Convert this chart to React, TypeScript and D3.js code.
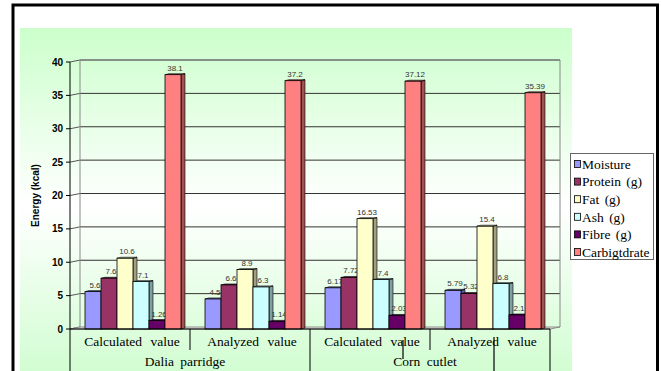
import React from "react";
import * as d3 from "d3";

// Samples and measurement type (two-level category axis)
const groups = ["Dalia parridge", "Corn cutlet"];
const measures = ["Calculated value", "Analyzed value"];
const categories = ["Dalia|Calculated", "Dalia|Analyzed", "Corn|Calculated", "Corn|Analyzed"];

const seriesNames = ["Moisture", "Protein  (g)", "Fat  (g)", "Ash  (g)", "Fibre  (g)", "Carbigtdrate"];
const seriesColors = ["#9999ff", "#993366", "#ffffcc", "#ccffff", "#660066", "#ff8080"];

// values per category, in series order
const calcDalia = [5.6, 7.6, 10.6, 7.1, 1.26, 38.1];
const anaDalia = [4.5, 6.6, 8.9, 6.3, 1.14, 37.2];
const calcCorn = [6.17, 7.72, 16.53, 7.4, 2.03, 37.12];
const anaCorn = [5.79, 5.32, 15.4, 6.8, 2.1, 35.39];
const values = [calcDalia, anaDalia, calcCorn, anaCorn];

const yTicks = [0, 5, 10, 15, 20, 25, 30, 35, 40];

const W = 661;
const H = 371;
const X0 = 70;
const X1 = 550;
const Y0 = 329;
const Y1 = 62;
const DX = 10; // wall depth
const DY = -2;
const BW = 16; // bar width
const BDX = 4; // bar depth
const BDY = -1;

const serif = "'Liberation Serif', 'Times New Roman', serif";
const sans = "'Liberation Sans', Arial, sans-serif";

export default function App() {
  const x = d3.scaleBand<string>().domain(categories).range([X0, X1]);
  const inner = d3
    .scaleBand<string>()
    .domain(seriesNames)
    .range([15, 15 + BW * seriesNames.length]);
  const y = d3.scaleLinear().domain([0, 40]).range([Y0, Y1]);

  const bars: React.ReactNode[] = [];
  categories.forEach((c, ci) => {
    values[ci].forEach((v, si) => {
      const bx = (x(c) as number) + (inner(seriesNames[si]) as number);
      const by = y(v);
      const col = seriesColors[si];
      const side = d3.color(col)!.darker(1.3).formatHex();
      const top = d3.color(col)!.darker(0.4).formatHex();
      bars.push(
        <g key={`b${ci}-${si}`}>
          <polygon
            points={`${bx + BW},${by} ${bx + BW + BDX},${by + BDY} ${bx + BW + BDX},${Y0 + BDY} ${bx + BW},${Y0}`}
            fill={side}
            stroke="#000"
            strokeWidth={0.6}
          />
          <polygon
            points={`${bx},${by} ${bx + BDX},${by + BDY} ${bx + BW + BDX},${by + BDY} ${bx + BW},${by}`}
            fill={top}
            stroke="#000"
            strokeWidth={0.6}
          />
          <rect x={bx} y={by} width={BW} height={Y0 - by} fill={col} stroke="#000" strokeWidth={0.8} />
          <text
            x={bx + BW / 2 + 2}
            y={by - 4}
            fontFamily={sans}
            fontSize={8}
            fill="#333"
            textAnchor="middle"
          >
            {String(v)}
          </text>
        </g>
      );
    });
  });

  const bandW = x.bandwidth();

  return (
    <svg
      width={W}
      height={H}
      style={{ position: "absolute", left: 0, top: 0, display: "block" }}
    >
      <defs>
        <linearGradient id="bg" x1="0" y1="0" x2="0" y2="1">
          <stop offset="0" stopColor="#ccffcc" />
          <stop offset="0.52" stopColor="#ffffff" />
          <stop offset="1" stopColor="#d2fdd2" />
        </linearGradient>
      </defs>
      <rect x={0} y={0} width={W} height={H} fill="#fff" />
      {/* chart frame */}
      <rect x={13} y={5} width={644.5} height={H + 10} fill="#fff" stroke="#000" strokeWidth={3} />
      {/* plot area */}
      <rect x={20} y={28} width={552} height={H - 28} fill="url(#bg)" />

      {/* back wall gridlines */}
      {yTicks.map((t) => (
        <g key={`g${t}`}>
          <line x1={X0 - 4} x2={X0} y1={y(t)} y2={y(t)} stroke="#000" />
          <line x1={X0} x2={X0 + DX} y1={y(t)} y2={y(t) + DY} stroke="#555" />
          {t > 0 && (
            <line x1={X0 + DX} x2={X1 + DX} y1={y(t) + DY} y2={y(t) + DY} stroke="#333" strokeWidth={1} />
          )}
          <text
            x={X0 - 7}
            y={y(t)}
            dy="0.35em"
            textAnchor="end"
            fontFamily={sans}
            fontWeight="bold"
            fontSize={10}
            fill="#000"
          >
            {t}
          </text>
        </g>
      ))}
      {/* wall edges */}
      <line x1={X0 + DX} x2={X0 + DX} y1={y(40) + DY} y2={Y0 + DY} stroke="#888" />
      <line x1={X1 + DX} x2={X1 + DX} y1={y(40) + DY} y2={Y0 + DY} stroke="#888" />
      <line x1={X0 + DX} x2={X1 + DX} y1={y(40) + DY} y2={y(40) + DY} stroke="#888" />
      {/* floor */}
      <polygon
        points={`${X0},${Y0} ${X0 + DX},${Y0 + DY} ${X1 + DX},${Y0 + DY} ${X1},${Y0}`}
        fill="#e8e8e8"
        stroke="#777"
        strokeWidth={0.8}
      />

      {bars}

      {/* axes */}
      <line x1={X0} x2={X0} y1={Y1} y2={H} stroke="#000" />
      <line x1={X0} x2={X1} y1={Y0} y2={Y0} stroke="#000" strokeWidth={1.2} />
      <line x1={X1} x2={X1} y1={Y0} y2={H} stroke="#000" />
      {categories.map((c, i) => {
        const cx = (x(c) as number) + bandW / 2 + 2;
        const sep = (x(c) as number) + bandW;
        return (
          <g key={`c${i}`}>
            <text
              x={cx}
              y={346}
              textAnchor="middle"
              fontFamily={serif}
              fontSize={13.5}
              wordSpacing={5}
              fill="#000"
            >
              {measures[i % 2]}
            </text>
            {i < categories.length - 1 && (
              <line x1={sep} x2={sep} y1={Y0} y2={i % 2 === 1 ? H : 350} stroke="#000" />
            )}
          </g>
        );
      })}
      {groups.map((g, gi) => (
        <text
          key={g}
          x={X0 + bandW * (2 * gi + 1) - 5}
          y={366}
          textAnchor="middle"
          fontFamily={serif}
          fontSize={13.5}
          wordSpacing={3}
          fill="#000"
        >
          {g}
        </text>
      ))}
      {/* stray separators in the category table */}
      <line x1={403} x2={403} y1={340} y2={359} stroke="#000" strokeWidth={1.2} />
      <line x1={494} x2={494} y1={337} y2={H} stroke="#000" strokeWidth={1.2} />

      {/* y axis title */}
      <text
        transform={`translate(39,${(Y0 + Y1) / 2}) rotate(-90)`}
        textAnchor="middle"
        fontFamily={sans}
        fontWeight="bold"
        fontSize={10}
        fill="#000"
      >
        Energy (kcal)
      </text>

      {/* legend */}
      <g>
        <rect x={570.5} y={153.5} width={83} height={106} fill="#fff" stroke="#666" />
        {seriesNames.map((s, i) => {
          const ly = 164 + i * 17.6;
          return (
            <g key={s}>
              <rect x={574.5} y={ly - 3.5} width={6} height={7} fill={seriesColors[i]} stroke="#000" strokeWidth={0.8} />
              <text
                x={582}
                y={ly}
                dy="0.35em"
                fontFamily={serif}
                fontSize={13.5}
                wordSpacing={2}
                fill="#000"
              >
                {s}
              </text>
            </g>
          );
        })}
      </g>
    </svg>
  );
}
